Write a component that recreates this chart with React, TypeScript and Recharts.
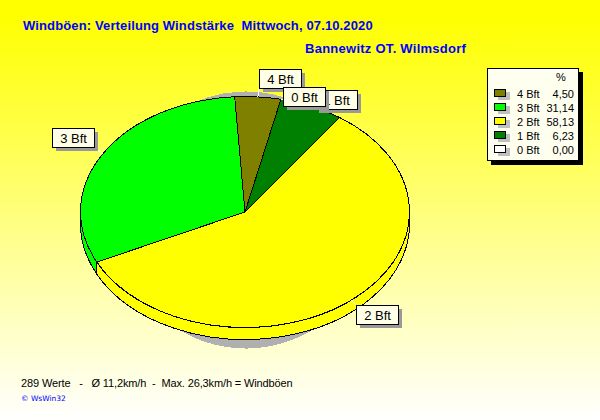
import { Legend, Pie, PieChart, Sector } from 'recharts';

// slices in the order they run clockwise round the pie
const sliceNames = ['4 Bft', '0 Bft', '1 Bft', '2 Bft', '3 Bft'];
const sliceValues = [4.5, 0, 6.23, 58.13, 31.14];
const sliceColors = ['#808000', '#ffffff', '#008000', '#ffff00', '#00ff00'];

// legend rows, top to bottom
const legendNames = ['4 Bft', '3 Bft', '2 Bft', '1 Bft', '0 Bft'];
const legendValues = ['4,50', '31,14', '58,13', '6,23', '0,00'];
const legendColors = ['#808000', '#00ff00', '#ffff00', '#008000', '#ffffff'];

const slices = sliceNames.map((name, i) => ({
  name,
  value: sliceValues[i],
  fill: sliceColors[i],
}));

const FONT = '"Liberation Sans", Arial, sans-serif';
const CX = 245;
const CY = 212;
const RX = 164.5;
const RY = 115.5;
const DEPTH = 12;
const START = 93.6;

// top-left of each callout box, relative to the slice's rim point
const labelOffsets: Record<string, [number, number]> = {
  '4 Bft': [1, -28],
  '0 Bft': [2, -12],
  '1 Bft': [4, -16],
  '2 Bft': [5, 5],
  '3 Bft': [-51, -26],
};

const rimPoint = (deg: number, drop = 0) => {
  const a = (deg * Math.PI) / 180;
  return [CX + RX * Math.cos(a), CY + drop - RY * Math.sin(a)];
};

// top face: the pie's own angles drawn on an ellipse
function TopFace(props: any) {
  const { startAngle, endAngle, payload } = props;
  const [x1, y1] = rimPoint(startAngle);
  const [x2, y2] = rimPoint(endAngle);
  const large = Math.abs(startAngle - endAngle) > 180 ? 1 : 0;
  return (
    <path
      d={`M${CX} ${CY}L${x1} ${y1}A${RX} ${RY} 0 ${large} 1 ${x2} ${y2}Z`}
      fill={payload.fill}
      stroke="#000"
      strokeWidth={1}
      shapeRendering="crispEdges"
    />
  );
}

// side wall: only the part of the slice on the front half of the ellipse
function SideWall(props: any) {
  const { startAngle, endAngle, payload } = props;
  const from = Math.min(startAngle, 0);
  const to = Math.max(endAngle, -180);
  if (from <= to) return null;
  const [x1, y1] = rimPoint(from);
  const [x2, y2] = rimPoint(to);
  const [x3, y3] = rimPoint(to, DEPTH);
  const [x4, y4] = rimPoint(from, DEPTH);
  return (
    <path
      d={`M${x1} ${y1}A${RX} ${RY} 0 0 1 ${x2} ${y2}L${x3} ${y3}A${RX} ${RY} 0 0 0 ${x4} ${y4}Z`}
      fill={payload.fill}
      stroke="#000"
      strokeWidth={1}
      shapeRendering="crispEdges"
    />
  );
}

const DropShadow = (props: any) => (
  <Sector {...props} fill="#b0b0b0" stroke="#b0b0b0" shapeRendering="crispEdges" />
);

function Callout({ midAngle, name }: { midAngle: number; name: string }) {
  const [px, py] = rimPoint(midAngle);
  const [dx, dy] = labelOffsets[name];
  const x = Math.round(px + dx);
  const y = Math.round(py + dy);
  const w = 42;
  const h = 19;
  const tx = Math.min(Math.max(px, x), x + w);
  const ty = Math.min(Math.max(py, y), y + h);
  return (
    <g>
      <line x1={px} y1={py} x2={tx} y2={ty} stroke="#fff" shapeRendering="crispEdges" />
      <rect x={x + 4} y={y + 4} width={w} height={h} fill="#999999" shapeRendering="crispEdges" />
      <rect x={x + 0.5} y={y + 0.5} width={w} height={h} fill="#ffffe8" stroke="#000" shapeRendering="crispEdges" />
      <text
        x={x + w / 2 + 0.5}
        y={y + 14.5}
        textAnchor="middle"
        fontFamily={FONT}
        fontSize={13}
        fill="#000"
      >
        {name}
      </text>
    </g>
  );
}

function LegendBox() {
  return (
    <div
      style={{
        width: 90,
        height: 91,
        position: 'relative',
        background: '#fffff0',
        border: '1px solid #000',
        boxShadow: '4px 4px 0 #000',
        fontFamily: FONT,
        fontSize: 11,
        color: '#000',
        lineHeight: '14px',
      }}
    >
      <div style={{ position: 'absolute', left: 68, top: 1 }}>%</div>
      {legendNames.map((name, i) => (
        <div key={name}>
          <div
            style={{
              position: 'absolute',
              left: 6,
              top: 20 + i * 14,
              width: 10,
              height: 6,
              background: legendColors[i],
              border: '1px solid #000',
              boxShadow: '4px 3px 0 #c0c0c0',
            }}
          />
          <div style={{ position: 'absolute', left: 29, top: 18 + i * 14 }}>{name}</div>
          <div style={{ position: 'absolute', right: 4, top: 18 + i * 14 }}>{legendValues[i]}</div>
        </div>
      ))}
    </div>
  );
}

const noSector = () => null;

const titleStyle = {
  position: 'absolute' as const,
  fontFamily: FONT,
  fontWeight: 700,
  fontSize: 13,
  color: '#0000ff',
  whiteSpace: 'pre' as const,
  lineHeight: '16px',
};

export default function App() {
  return (
    <div
      style={{
        position: 'absolute',
        left: 0,
        top: 0,
        width: 600,
        height: 420,
        overflow: 'hidden',
        background: 'linear-gradient(180deg, #ffff00 0%, #ffff00 4%, #ffffff 100%)',
      }}
    >
      <div style={{ ...titleStyle, left: 23, top: 18, letterSpacing: 0.13 }}>
        {'Windböen: Verteilung Windstärke  Mittwoch, 07.10.2020'}
      </div>
      <div style={{ ...titleStyle, left: 305, top: 41, letterSpacing: 0.26 }}>Bannewitz OT. Wilmsdorf</div>

      <PieChart width={600} height={420} margin={{ top: 0, right: 0, bottom: 0, left: 0 }}>
        <Pie
          data={slices}
          dataKey="value"
          cx={246}
          cy={220}
          outerRadius={128}
          startAngle={START}
          endAngle={START - 360}
          shape={DropShadow}
          stroke="none"
          isAnimationActive={false}
        />
        <Pie
          data={slices}
          dataKey="value"
          cx={CX}
          cy={CY}
          outerRadius={RX}
          startAngle={START}
          endAngle={START - 360}
          shape={SideWall}
          isAnimationActive={false}
        />
        <Pie
          data={slices}
          dataKey="value"
          cx={CX}
          cy={CY}
          outerRadius={RX}
          startAngle={START}
          endAngle={START - 360}
          shape={TopFace}
          labelLine={false}
          label={(p: any) => (p.name === '0 Bft' ? null : <Callout midAngle={p.midAngle} name={p.name} />)}
          isAnimationActive={false}
        />
        {/* 0 Bft callout sits on top of its neighbours */}
        <Pie
          data={slices}
          dataKey="value"
          cx={CX}
          cy={CY}
          outerRadius={RX}
          startAngle={START}
          endAngle={START - 360}
          shape={noSector}
          labelLine={false}
          label={(p: any) => (p.name === '0 Bft' ? <Callout midAngle={p.midAngle} name={p.name} /> : null)}
          isAnimationActive={false}
        />
        <Legend
          content={<LegendBox />}
          wrapperStyle={{ position: 'absolute', left: 487, top: 68, width: 92, height: 93, bottom: 'auto' }}
        />
      </PieChart>

      <div
        style={{
          position: 'absolute',
          left: 21,
          top: 376,
          fontFamily: FONT,
          fontSize: 11,
          letterSpacing: -0.13,
          color: '#000',
          whiteSpace: 'pre',
          lineHeight: '14px',
        }}
      >
        {'289 Werte   -   Ø 11,2km/h  -  Max. 26,3km/h = Windböen'}
      </div>
      <div
        style={{
          position: 'absolute',
          left: 21,
          top: 394,
          fontFamily: '"DejaVu Sans", sans-serif',
          fontSize: 7.5,
          color: '#0000ff',
          whiteSpace: 'pre',
          lineHeight: '10px',
        }}
      >
        © WsWin32
      </div>
    </div>
  );
}
